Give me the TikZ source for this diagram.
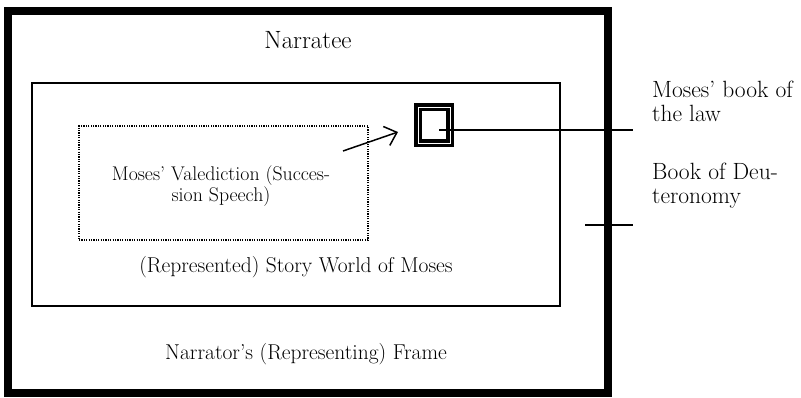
\documentclass[tikz,border=0pt]{standalone}
\usepackage{fontspec}
\usetikzlibrary{arrows.meta}
\tikzset{
  toptext/.style={font=\fontsize{25}{26}\selectfont, inner sep=0pt},
  sidetext/.style={font=\fontsize{23.5}{23.5}\selectfont, inner sep=0pt},
  midtext/.style={font=\fontsize{21.5}{23}\selectfont, inner sep=0pt},
  smalltext/.style={font=\fontsize{19.8}{19.5}\selectfont, inner sep=0pt},
  framebox/.style={draw, line width=8pt, outer sep=0pt, inner sep=0pt},
  worldbox/.style={draw, line width=2pt, outer sep=0pt, inner sep=0pt},
  speechbox/.style={draw, line width=1.2pt, dash pattern=on 1.2pt off 1.2pt, outer sep=0pt, inner sep=0pt},
  lawbook/.style={draw, line width=8pt, outer sep=0pt, inner sep=0pt},
  leader/.style={line width=1.6pt},
}
\begin{document}
\begin{tikzpicture}[x=1pt, y=-1pt]
\useasboundingbox (0,0) rectangle (801,397);

% nested frames
\node[framebox, minimum width=600pt, minimum height=382pt] (frame) at (308,202) {};
\node[worldbox, minimum width=528pt, minimum height=223pt] (world) at (296,194.5) {};
\node[speechbox, minimum width=289pt, minimum height=114pt] (speech) at (223.5,183) {};

% Moses' book of the law: heavy double-ruled square
\node[lawbook, minimum width=32pt, minimum height=36pt] (law) at (434,125) {};
\draw[white, line width=1pt] (law.north west) rectangle (law.south east);

% labels inside the frames
\node[toptext, anchor=base] (narratee) at (308,48) {Narratee};
\node[midtext, anchor=base] (story) at (296,272) {(Represented) Story World of Moses};
\node[midtext, anchor=base] (narrator) at (306,359) {Narrator’s (Representing) Frame};
\node[smalltext, align=center, anchor=north] (speechlabel) at (221,165.5) {Moses’ Valediction (Succes-\\sion Speech)};

% side labels
\node[sidetext, anchor=base west, align=left] (lawlabel) at (652,121) {Moses’ book of\\the law};
\node[sidetext, anchor=base west, align=left] (deutlabel) at (652,203) {Book of Deu-\\teronomy};

% connectors
\coordinate (arrowtail) at (343,151);
\coordinate (arrowhead) at (398,132);
\draw[line width=1.5pt, -{Straight Barb[length=11pt, width=20pt, line width=1.5pt]}] (arrowtail) -- (arrowhead);

\coordinate (lawstart) at (439,130);
\coordinate (lawend) at (633,130);
\draw[leader] (lawstart) -- (lawend);

\coordinate (deutstart) at (585,225);
\coordinate (deutend) at (633,225);
\draw[leader] (deutstart) -- (deutend);
\end{tikzpicture}
\end{document}
